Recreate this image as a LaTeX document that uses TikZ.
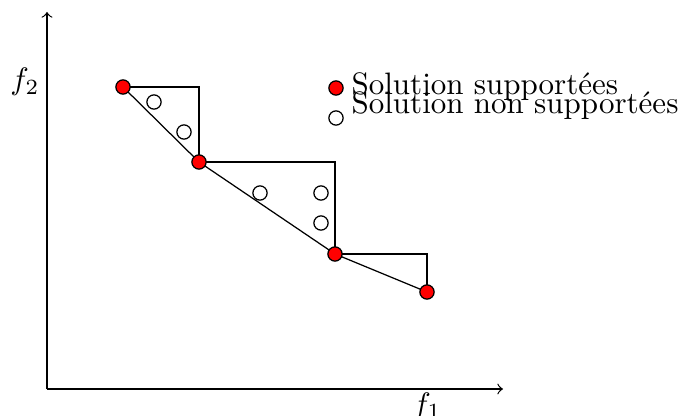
\documentclass[tikz,border=0pt]{standalone}
\usepackage{amsmath, amssymb}
\usepackage{tikz}
\usetikzlibrary{calc}

\begin{document}
\begin{tikzpicture}[x=0.3226pt, y=-0.3226pt,
      sup/.style={circle, draw=black, fill=red, inner sep=0pt, minimum size=4.6pt},
      nsup/.style={circle, draw=black, fill=white, inner sep=0pt, minimum size=4.6pt}]
      \useasboundingbox (0,0) rectangle (680,416);

      % 1. axes f_1, f_2
      \coordinate (O) at (47,389);
      \coordinate (X) at (503,389);
      \coordinate (Y) at (47,12);
      \draw[->] (O) -- (X);
      \draw[->] (O) -- (Y);
      \node[anchor=north, inner sep=1pt] (f_1) at (427,389) {$f_1$};
      \node (f_2) at (25,82) {$f_2$};

      % 2. solutions supportees S et non supportees N
      \coordinate (S_1) at (123,87);
      \coordinate (S_2) at (199,162);
      \coordinate (S_3) at (335,254);
      \coordinate (S_4) at (427,292);
      \coordinate (N_1) at (154,102);
      \coordinate (N_2) at (184,132);
      \coordinate (N_3) at (260,193);
      \coordinate (N_4) at (321,193);
      \coordinate (N_5) at (321,223);

      % 3. front et triangles
      \draw (S_1) -- (S_2) -- (S_3) -- (S_4);
      \draw (S_1) -| (S_2);
      \draw (S_2) -| (S_3);
      \draw (S_3) -| (S_4);

      % 4. points
      \foreach \i in {1,...,4}
        \node[sup] (s\i) at (S_\i) {};
      \foreach \i in {1,...,5}
        \node[nsup] (n\i) at (N_\i) {};

      % 5. legende
      \node[sup] (leg_sup) at (336,88) {};
      \node[nsup] (leg_nsup) at (336,118) {};
      \node[anchor=base west, inner sep=0pt] (t_sup) at (351,95) {Solution supportées};
      \node[anchor=base west, inner sep=0pt] (t_nsup) at (351,114) {Solution non supportées};
\end{tikzpicture}
\end{document}
